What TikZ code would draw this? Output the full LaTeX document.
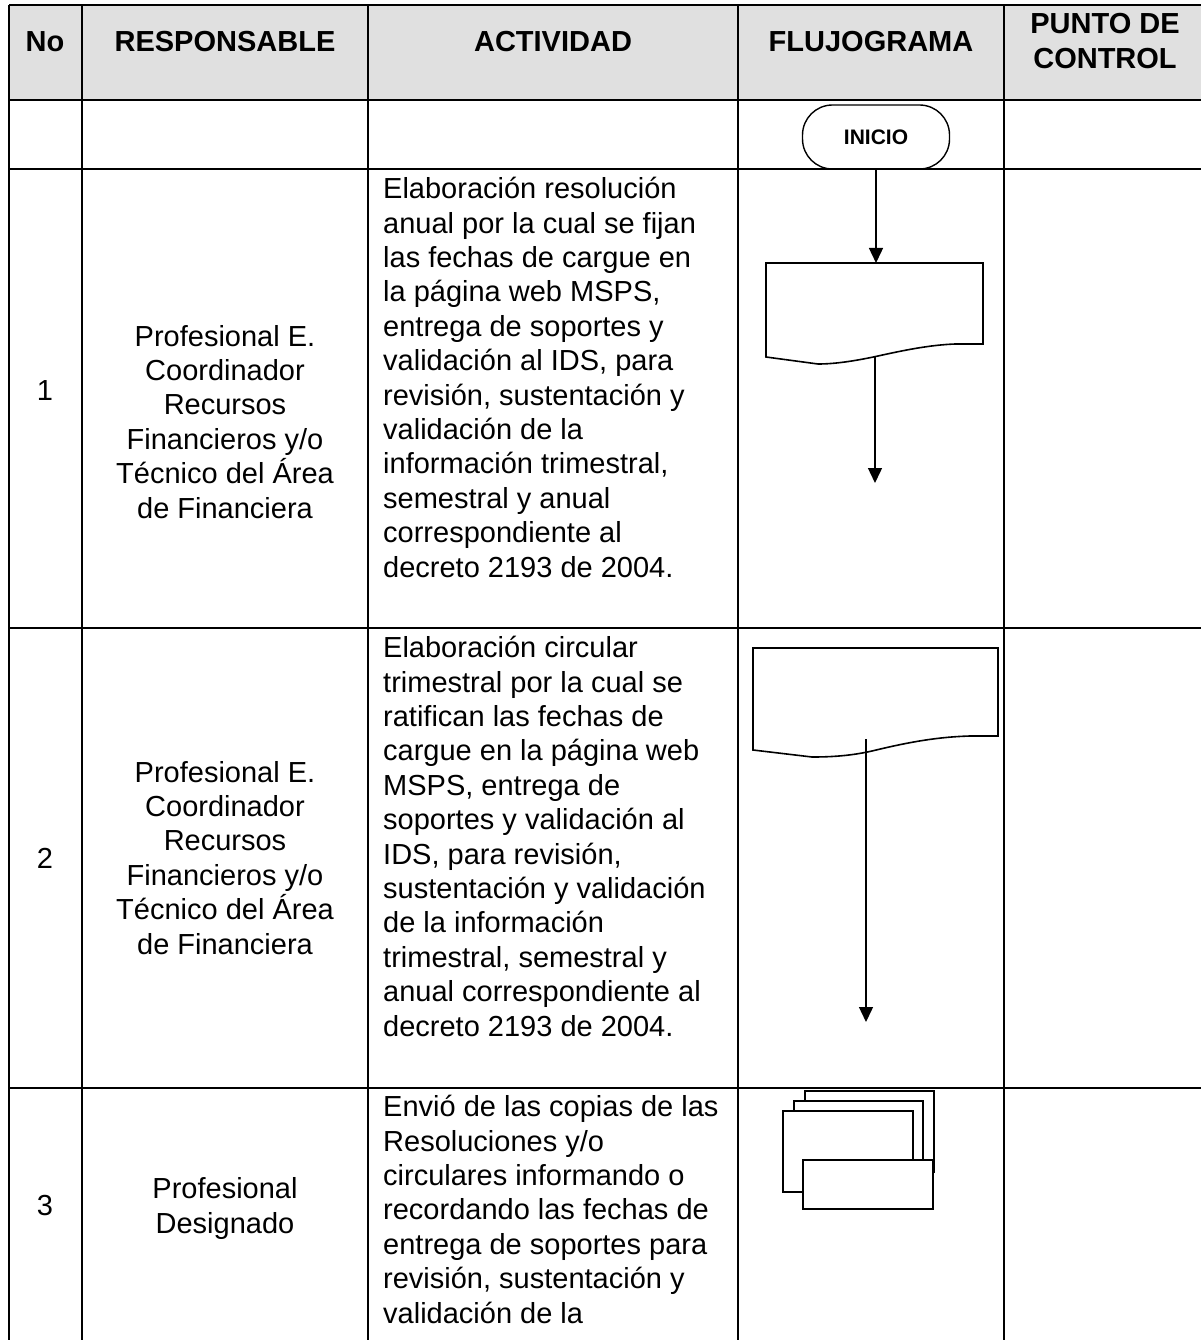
\documentclass[tikz,border=0pt]{standalone}
\usepackage{fontspec}
\setmainfont{Liberation Sans}
\usetikzlibrary{arrows.meta}
\definecolor{hdrgray}{HTML}{E0E0E0}
\begin{document}
\begin{tikzpicture}[x=1pt,y=-1pt,
  grid/.style={line width=1.5pt},
  hdr/.style={font=\fontsize{29}{35}\selectfont\bfseries, align=center, inner sep=0pt, anchor=base},
  body/.style={font=\fontsize{29}{34.4}\selectfont, inner sep=0pt},
  resp/.style={body, align=center, anchor=base},
  act/.style={body, align=left, anchor=base west},
  term/.style={draw, line width=1.4pt, rounded corners=30pt, minimum width=147pt, minimum height=64pt, inner sep=0pt, font=\fontsize{21}{24}\selectfont\bfseries},
  shp/.style={line width=1.6pt, fill=white},
  arr/.style={line width=1.4pt, -{Triangle[length=15pt,width=14pt]}},
]
\useasboundingbox (0,0) rectangle (1201,1340);
% header background
\fill[hdrgray] (9,5) rectangle (1201,100);
% grid
\draw[grid] (9,5) -- (1201,5);
\draw[grid] (9,100) -- (1201,100);
\draw[grid] (9,169) -- (1201,169);
\draw[grid] (9,628) -- (1201,628);
\draw[grid] (9,1088) -- (1201,1088);
\foreach \xx in {9,82,368,738,1004} {\draw[grid] (\xx,5) -- (\xx,1340);}

% header (anchor base = last line's baseline)
\node[hdr] (hno) at (45,52) {No};
\node[hdr] (hresp) at (225,52) {RESPONSABLE};
\node[hdr] (hact) at (553,52) {ACTIVIDAD};
\node[hdr] (hflu) at (871,52) {FLUJOGRAMA};
\node[hdr] (hpc) at (1105,69) {PUNTO DE\\CONTROL};

% numbers
\node[resp] (n1) at (45,400) {1};
\node[resp] (n2) at (45,868) {2};
\node[resp] (n3) at (45,1215) {3};

% responsables
\node[resp] (r1) at (225,518) {Profesional E.\\Coordinador\\Recursos\\Financieros y/o\\Técnico del Área\\de Financiera};
\node[resp] (r2) at (225,954) {Profesional E.\\Coordinador\\Recursos\\Financieros y/o\\Técnico del Área\\de Financiera};
\node[resp] (r3) at (225,1233) {Profesional\\Designado};

% actividades
\node[act] (a1) at (383,577) {Elaboración resolución\\anual por la cual se fijan\\las fechas de cargue en\\la página web MSPS,\\entrega de soportes y\\validación al IDS, para\\revisión, sustentación y\\validación de la\\información trimestral,\\semestral y anual\\correspondiente al\\decreto 2193 de 2004.};
\node[act] (a2) at (383,1036) {Elaboración circular\\trimestral por la cual se\\ratifican las fechas de\\cargue en la página web\\MSPS, entrega de\\soportes y validación al\\IDS, para revisión,\\sustentación y validación\\de la información\\trimestral, semestral y\\anual correspondiente al\\decreto 2193 de 2004.};
\node[act] (a3) at (383,1323) {Envió de las copias de las\\Resoluciones y/o\\circulares informando o\\recordando las fechas de\\entrega de soportes para\\revisión, sustentación y\\validación de la};

% flujograma
\node[term] (ini) at (876,137) {INICIO};

\node[minimum width=217pt, minimum height=94pt, anchor=north west, inner sep=0pt] (doc1) at (766,263) {};
\draw[shp] (766,263) -- (983,263) -- (983,344) -- (955,344)
  .. controls (930,345) and (905,350) .. (878,356)
  .. controls (855,361) and (835,364) .. (818,364) -- (766,357) -- cycle;
\draw[arr] (ini.south) -- (ini.south |- doc1.north);
\coordinate (d1b) at (875,357);
\coordinate (e1) at (875,483);
\draw[arr] (d1b) -- (e1);

\node[minimum width=245pt, minimum height=102pt, anchor=north west, inner sep=0pt] (doc2) at (753,648) {};
\draw[shp] (753,648) -- (998,648) -- (998,736) -- (970,736)
  .. controls (935,737) and (905,743) .. (872,751)
  .. controls (850,756) and (830,757) .. (812,757) -- (753,750) -- cycle;
\coordinate (d2b) at (866,739);
\coordinate (e2) at (866,1022);
\draw[arr] (d2b) -- (e2);

% multiple documents
\draw[shp] (805,1091) rectangle (934,1172);
\draw[shp] (794,1101) rectangle (923,1182);
\draw[shp] (783,1111) rectangle (913,1192);
\node[shp, draw, minimum width=130pt, minimum height=49pt, anchor=north west, inner sep=0pt] (md) at (802,1159) {};
\end{tikzpicture}
\end{document}
